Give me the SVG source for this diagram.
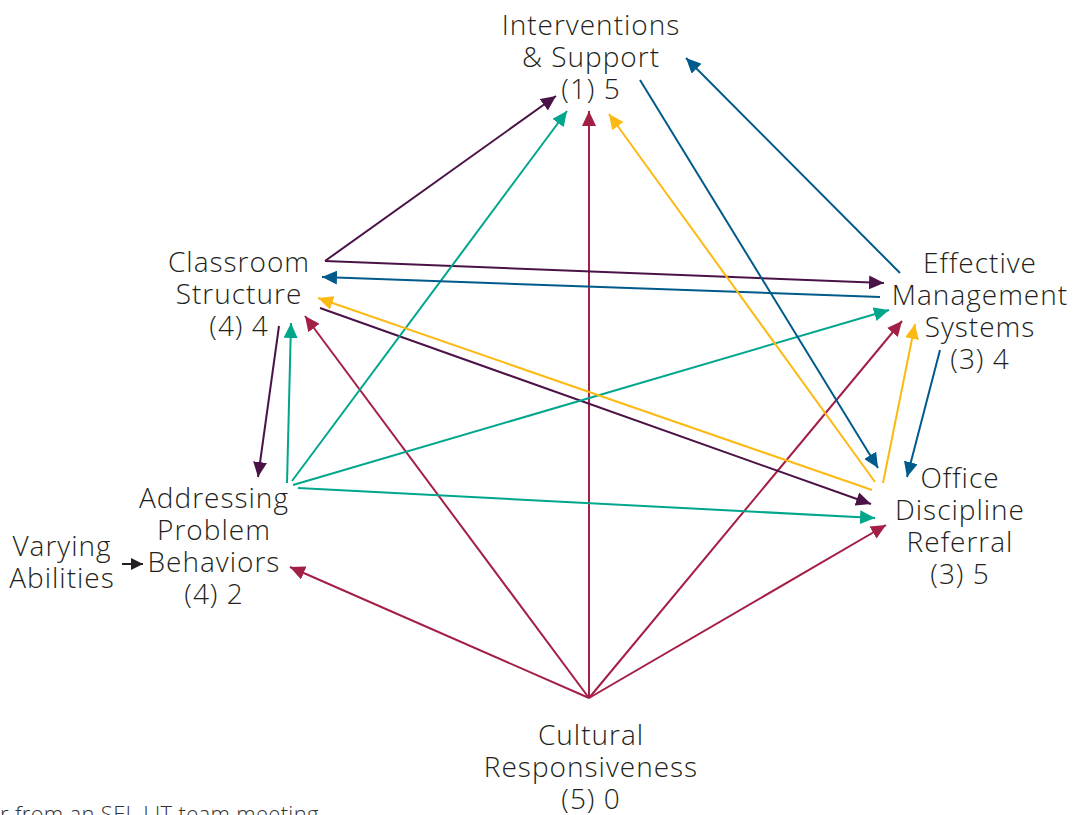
<svg xmlns="http://www.w3.org/2000/svg" width="1076" height="815" viewBox="0 0 1076 815">
<style>
text{font-family:"Open Sans","Liberation Sans",sans-serif;font-weight:300;font-size:28px;letter-spacing:1px;fill:#231f20;text-anchor:middle}
.note{font-size:22px;letter-spacing:0.3px;text-anchor:start;fill:#333}
line{stroke-width:2;fill:none}
.r{stroke:#a31f45}.p{stroke:#4b1248}.t{stroke:#00a68c}.b{stroke:#005a8c}.y{stroke:#fdb913}.k{stroke:#231f20}
</style>
<defs>
<marker id="ar" markerUnits="userSpaceOnUse" markerWidth="15" markerHeight="14" refX="15" refY="7" orient="auto"><path d="M0,0L15,7L0,14z" fill="#a31f45"/></marker>
<marker id="ap" markerUnits="userSpaceOnUse" markerWidth="15" markerHeight="14" refX="15" refY="7" orient="auto"><path d="M0,0L15,7L0,14z" fill="#4b1248"/></marker>
<marker id="at" markerUnits="userSpaceOnUse" markerWidth="15" markerHeight="14" refX="15" refY="7" orient="auto"><path d="M0,0L15,7L0,14z" fill="#00a68c"/></marker>
<marker id="ab" markerUnits="userSpaceOnUse" markerWidth="15" markerHeight="14" refX="15" refY="7" orient="auto"><path d="M0,0L15,7L0,14z" fill="#005a8c"/></marker>
<marker id="ay" markerUnits="userSpaceOnUse" markerWidth="15" markerHeight="14" refX="15" refY="7" orient="auto"><path d="M0,0L15,7L0,14z" fill="#fdb913"/></marker>
<marker id="ak" markerUnits="userSpaceOnUse" markerWidth="12" markerHeight="12" refX="12" refY="6" orient="auto"><path d="M0,0L12,6L0,12z" fill="#231f20"/></marker>
</defs>
<rect width="1076" height="815" fill="#fff"/>
<g id="connectors">
<line class="r" x1="589" y1="698" x2="589" y2="111" marker-end="url(#ar)"/>
<line class="r" x1="589" y1="698" x2="290" y2="567" marker-end="url(#ar)"/>
<line class="r" x1="589" y1="698" x2="305" y2="316" marker-end="url(#ar)"/>
<line class="r" x1="589" y1="698" x2="902" y2="321" marker-end="url(#ar)"/>
<line class="r" x1="589" y1="698" x2="886" y2="525" marker-end="url(#ar)"/>
<line class="p" x1="325" y1="261" x2="556" y2="96" marker-end="url(#ap)"/>
<line class="p" x1="325" y1="261" x2="884" y2="283" marker-end="url(#ap)"/>
<line class="p" x1="320" y1="308" x2="871" y2="504" marker-end="url(#ap)"/>
<line class="p" x1="279" y1="326" x2="258" y2="477" marker-end="url(#ap)"/>
<line class="t" x1="287" y1="483" x2="291" y2="323" marker-end="url(#at)"/>
<line class="t" x1="292" y1="481" x2="567" y2="111" marker-end="url(#at)"/>
<line class="t" x1="293" y1="485" x2="889" y2="310" marker-end="url(#at)"/>
<line class="t" x1="298" y1="488" x2="875" y2="518" marker-end="url(#at)"/>
<line class="b" x1="640" y1="80" x2="878" y2="468" marker-end="url(#ab)"/>
<line class="b" x1="900" y1="273" x2="686" y2="58" marker-end="url(#ab)"/>
<line class="b" x1="880" y1="297" x2="322" y2="277" marker-end="url(#ab)"/>
<line class="b" x1="940" y1="350" x2="907" y2="477" marker-end="url(#ab)"/>
<line class="y" x1="875" y1="482" x2="609" y2="114" marker-end="url(#ay)"/>
<line class="y" x1="872" y1="490" x2="318" y2="298" marker-end="url(#ay)"/>
<line class="y" x1="883" y1="483" x2="915" y2="324" marker-end="url(#ay)"/>
<line class="k" x1="122" y1="564" x2="143" y2="564" marker-end="url(#ak)"/>
</g>
<g id="interventions"><text x="591" y="35">Interventions</text><text x="591" y="67">&amp; Support</text><text x="591" y="99">(1) 5</text></g>
<g id="classroom"><text x="239" y="272">Classroom</text><text x="239" y="304">Structure</text><text x="239" y="336">(4) 4</text></g>
<g id="effective"><text x="980" y="273">Effective</text><text x="980" y="305">Management</text><text x="980" y="337">Systems</text><text x="980" y="369">(3) 4</text></g>
<g id="office"><text x="960" y="488">Office</text><text x="960" y="520">Discipline</text><text x="960" y="552">Referral</text><text x="960" y="584">(3) 5</text></g>
<g id="addressing"><text x="214" y="508">Addressing</text><text x="214" y="540">Problem</text><text x="214" y="572">Behaviors</text><text x="214" y="604">(4) 2</text></g>
<g id="varying"><text x="62" y="556">Varying</text><text x="62" y="588">Abilities</text></g>
<g id="cultural"><text x="591" y="745">Cultural</text><text x="591" y="777">Responsiveness</text><text x="591" y="809">(5) 0</text></g>
<text class="note" x="0" y="822">r from an SEL LIT team meeting</text>
</svg>
